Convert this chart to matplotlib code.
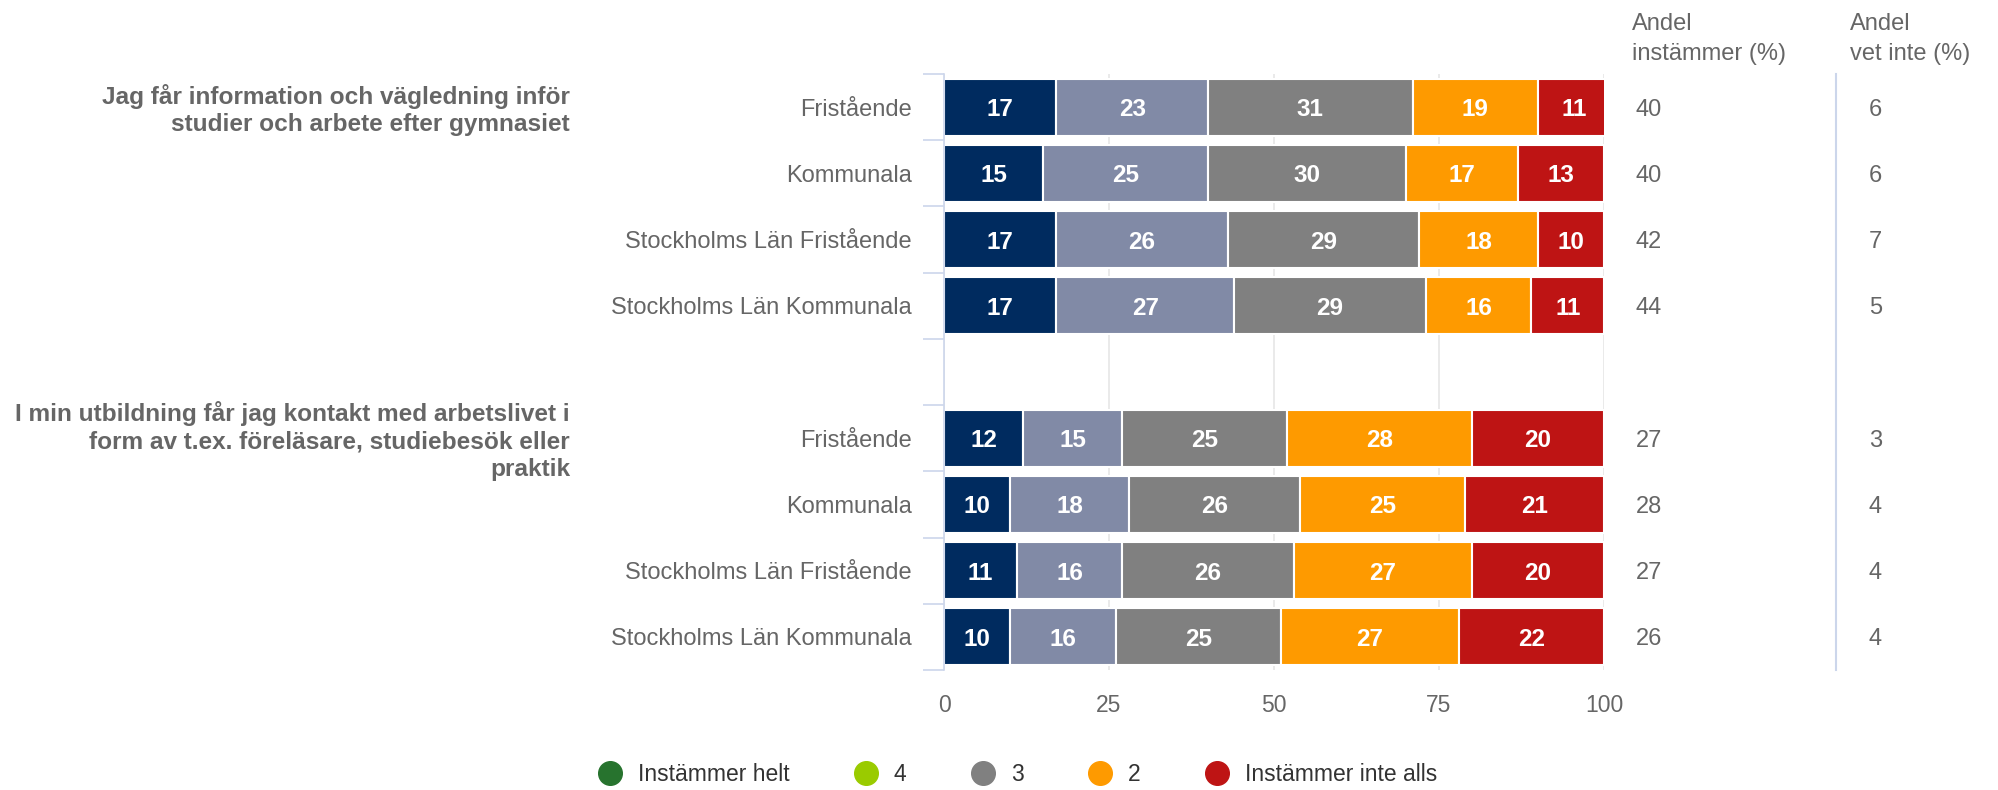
import numpy as np
import matplotlib
matplotlib.use('Agg')
from matplotlib import pyplot as plt
from matplotlib.lines import Line2D
import matplotlib.transforms as mtransforms

plt.rcParams['font.family'] = ['Liberation Sans', 'DejaVu Sans']

questions = ['Jag får information och vägledning inför\nstudier och arbete efter gymnasiet',
             'I min utbildning får jag kontakt med arbetslivet i\nform av t.ex. föreläsare, studiebesök eller\npraktik']
groups = ['Fristående', 'Kommunala', 'Stockholms Län Fristående', 'Stockholms Län Kommunala']

# andel svar per kategori (%), fyra grupper per fråga
instammer_helt = [17, 15, 17, 17, 12, 10, 11, 10]
svar_4 = [23, 25, 26, 27, 15, 18, 16, 16]
svar_3 = [31, 30, 29, 29, 25, 26, 26, 25]
svar_2 = [19, 17, 18, 16, 28, 25, 27, 27]
inte_alls = [11, 13, 10, 11, 20, 21, 20, 22]
andel_instammer = [40, 40, 42, 44, 27, 28, 27, 26]
andel_vet_inte = [6, 6, 7, 5, 3, 4, 4, 4]

bar_colors = ['#002b5f', '#818aa6', '#808080', '#fe9a00', '#be1414']
legend_labels = ['Instämmer helt', '4', '3', '2', 'Instämmer inte alls']
legend_colors = ['#27732e', '#9acb00', '#808080', '#fe9a00', '#be1414']

txt = '#666666'
axis_blue = '#ccd6eb'

# rad 4 lämnas tom mellan frågorna
rows = [0, 1, 2, 3, 5, 6, 7, 8]
series = [instammer_helt, svar_4, svar_3, svar_2, inte_alls]

fig = plt.figure(figsize=(19.98, 7.9), dpi=100)
ax = fig.add_axes([0.4725, 0.1519, 0.3303, 0.7544])

left = np.zeros(len(rows))
for vals, col in zip(series, bar_colors):
    vals = np.array(vals, dtype=float)
    ax.barh(rows, vals, left=left, height=0.86, color=col, edgecolor='white', linewidth=1.5, zorder=2)
    for y, l, v in zip(rows, left, vals):
        ax.text(l + v / 2, y, '%d' % v, ha='center', va='center_baseline', color='white',
                fontsize=17.5, fontweight='bold', zorder=3)
    left += vals

ax.set_xlim(0, 100)
ax.set_ylim(8.5, -0.5)
ax.set_xticks([0, 25, 50, 75, 100])
ax.tick_params(axis='x', length=0, pad=17, labelsize=16.5, labelcolor=txt)
ax.set_yticks(rows)
ax.set_yticklabels(groups * 2)
ax.tick_params(axis='y', which='major', length=0, pad=23, labelsize=17, labelcolor=txt)
ax.set_yticks(np.arange(-0.5, 9.0, 1.0), minor=True)
ax.tick_params(axis='y', which='minor', length=15, width=1.2, color=axis_blue)

ax.xaxis.grid(True, color='#e6e6e6', lw=1.2)
ax.set_axisbelow(True)
for s in ['top', 'right', 'bottom']:
    ax.spines[s].set_visible(False)
ax.spines['left'].set_color(axis_blue)
ax.spines['left'].set_linewidth(1.2)

# frågetexter till vänster, centrerade på första raden i varje grupp
trans = mtransforms.blended_transform_factory(fig.transFigure, ax.transData)
for q, y in zip(questions, [rows[0], rows[4]]):
    ax.text(0.2853, y + 0.04, q, transform=trans, ha='right', va='center', fontsize=17.6,
            fontweight='bold', color=txt, linespacing=1.25)

# kolumner till höger
for y, a, v in zip(rows, andel_instammer, andel_vet_inte):
    ax.text(0.8188, y, str(a), transform=trans, ha='left', va='center_baseline', fontsize=17, color=txt)
    ax.text(0.9354, y, str(v), transform=trans, ha='left', va='center_baseline', fontsize=17, color=txt)
fig.text(0.8168, 0.951, 'Andel\ninstämmer (%)', ha='left', va='center', fontsize=17,
         color=txt, linespacing=1.45)
fig.text(0.9259, 0.951, 'Andel\nvet inte (%)', ha='left', va='center', fontsize=17,
         color=txt, linespacing=1.45)
fig.add_artist(Line2D([0.9189, 0.9189], [0.1519, 0.9063], color=axis_blue, lw=1.5))

handles = [Line2D([], [], marker='o', linestyle='None', markersize=17, color=c) for c in legend_colors]
fig.legend(handles, legend_labels, loc='center', bbox_to_anchor=(0.5095, 0.019), ncol=5,
           frameon=False, fontsize=16.5, handlelength=1.0, handletextpad=0.7,
           columnspacing=2.85, labelcolor='#333333')

fig.savefig('out.png', dpi=100)
